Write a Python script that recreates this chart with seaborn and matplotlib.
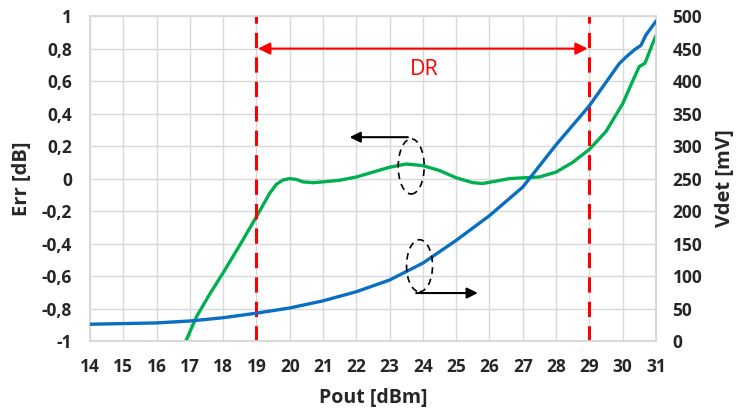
import matplotlib
matplotlib.use("Agg")
import matplotlib.pyplot as plt
from matplotlib.patches import Ellipse
import seaborn as sns
import pandas as pd

# Err [dB] (left axis, green)
err_x = [16.88, 17.2, 17.6, 18.0, 18.5, 19.0, 19.4, 19.6, 19.8, 20.0, 20.2, 20.4, 20.7, 21.0, 21.5,
         22.0, 22.5, 23.0, 23.5, 24.0, 24.5, 25.0, 25.5, 25.8, 26.2, 26.6, 27.0, 27.5,
         28.0, 28.5, 29.0, 29.5, 30.0, 30.3, 30.5, 30.67, 30.9, 31.0]
err_y = [-1.0, -0.85, -0.71, -0.58, -0.41, -0.235, -0.09, -0.035, -0.008, 0.0, -0.005, -0.02,
         -0.025, -0.02, -0.01, 0.01, 0.04, 0.07, 0.09, 0.08, 0.05, 0.005, -0.025, -0.03, -0.015,
         0.0, 0.005, 0.01, 0.04, 0.1, 0.18, 0.29, 0.46, 0.6, 0.69, 0.71, 0.83, 0.88]

# Vdet [mV] (right axis, blue)
vdet_x = [14, 15, 16, 17, 18, 19, 20, 21, 22, 23, 24, 25, 26, 27, 28, 29, 29.9, 30.1, 30.35,
          30.55, 30.7, 31]
vdet_y = [26, 27, 28, 31, 36, 43, 51, 62, 76, 94, 120, 155, 193, 237, 302, 362, 427, 437, 448,
          455, 471, 492]

x_ticks = list(range(14, 32))
err_ticks = [1, 0.8, 0.6, 0.4, 0.2, 0, -0.2, -0.4, -0.6, -0.8, -1]
err_tick_labels = ["1", "0,8", "0,6", "0,4", "0,2", "0", "-0,2", "-0,4", "-0,6", "-0,8", "-1"]
vdet_ticks = list(range(0, 501, 50))
dr_bounds = [19, 29]

sns.set_theme(style="white")
plt.rcParams["font.family"] = ["Open Sans", "DejaVu Sans"]

fig = plt.figure(figsize=(7.37, 4.13), dpi=100)
ax = fig.add_axes([0.122, 0.174, 0.768, 0.787])
ax2 = ax.twinx()

df_err = pd.DataFrame({"Pout": err_x, "Err": err_y})
df_v = pd.DataFrame({"Pout": vdet_x, "Vdet": vdet_y})

sns.lineplot(data=df_err, x="Pout", y="Err", ax=ax, color="#00B050", linewidth=2.4, zorder=3)
sns.lineplot(data=df_v, x="Pout", y="Vdet", ax=ax2, color="#0A6FC2", linewidth=2.4, zorder=3)

ax.set_xlim(14, 31)
ax.set_ylim(-1, 1)
ax2.set_ylim(0, 500)
ax.set_xticks(x_ticks)
ax.set_yticks(err_ticks)
ax.set_yticklabels(err_tick_labels)
ax2.set_yticks(vdet_ticks)

ax.grid(True, color="#d9d9d9", linewidth=1)
ax.set_axisbelow(True)
for a in (ax, ax2):
    for s in a.spines.values():
        s.set_color("#d9d9d9")
    a.tick_params(length=0, labelsize=12.5)
    for lab in a.get_xticklabels() + a.get_yticklabels():
        lab.set_fontweight("bold")
ax.tick_params(axis="y", pad=13)
ax.tick_params(axis="x", pad=12)
ax2.tick_params(axis="y", pad=12)

ax.set_xlabel("Pout [dBm]", fontsize=14, fontweight="bold", labelpad=9)
ax.set_ylabel("Err [dB]", fontsize=14.5, fontweight="bold", labelpad=7)
ax2.set_ylabel("Vdet [mV]", fontsize=14.5, fontweight="bold", labelpad=9)
ax2.grid(False)

# DR dashed lines
for xv in dr_bounds:
    ax.axvline(xv, color="#FF0000", linestyle=(0, (5, 3)), linewidth=2.2, zorder=4)
ax.annotate("", xy=(dr_bounds[0] + 0.05, 0.8), xytext=(dr_bounds[1] - 0.05, 0.8),
            arrowprops=dict(arrowstyle="<|-|>", color="#FF0000", lw=1.5, mutation_scale=18,
                            shrinkA=0, shrinkB=0))
ax.text(24.05, 0.67, "DR", color="#FF0000", fontsize=15.5, ha="center", va="center")

# ellipses + arrows
ell1 = Ellipse((23.65, 0.075), width=0.78, height=0.34, fill=False, linestyle=(0, (4, 3)),
               edgecolor="black", linewidth=1.2, zorder=5)
ax.add_patch(ell1)
ax.annotate("", xy=(21.8, 0.255), xytext=(23.55, 0.255),
            arrowprops=dict(arrowstyle="-|>", color="black", lw=1.5, mutation_scale=16,
                            shrinkA=0, shrinkB=0))
ell2 = Ellipse((23.9, 116), width=0.78, height=80, fill=False, linestyle=(0, (4, 3)),
               edgecolor="black", linewidth=1.2, zorder=5)
ax2.add_patch(ell2)
ax2.annotate("", xy=(25.65, 74), xytext=(23.8, 74),
             arrowprops=dict(arrowstyle="-|>", color="black", lw=1.5, mutation_scale=16,
                             shrinkA=0, shrinkB=0))

fig.savefig("out.png", dpi=100)
